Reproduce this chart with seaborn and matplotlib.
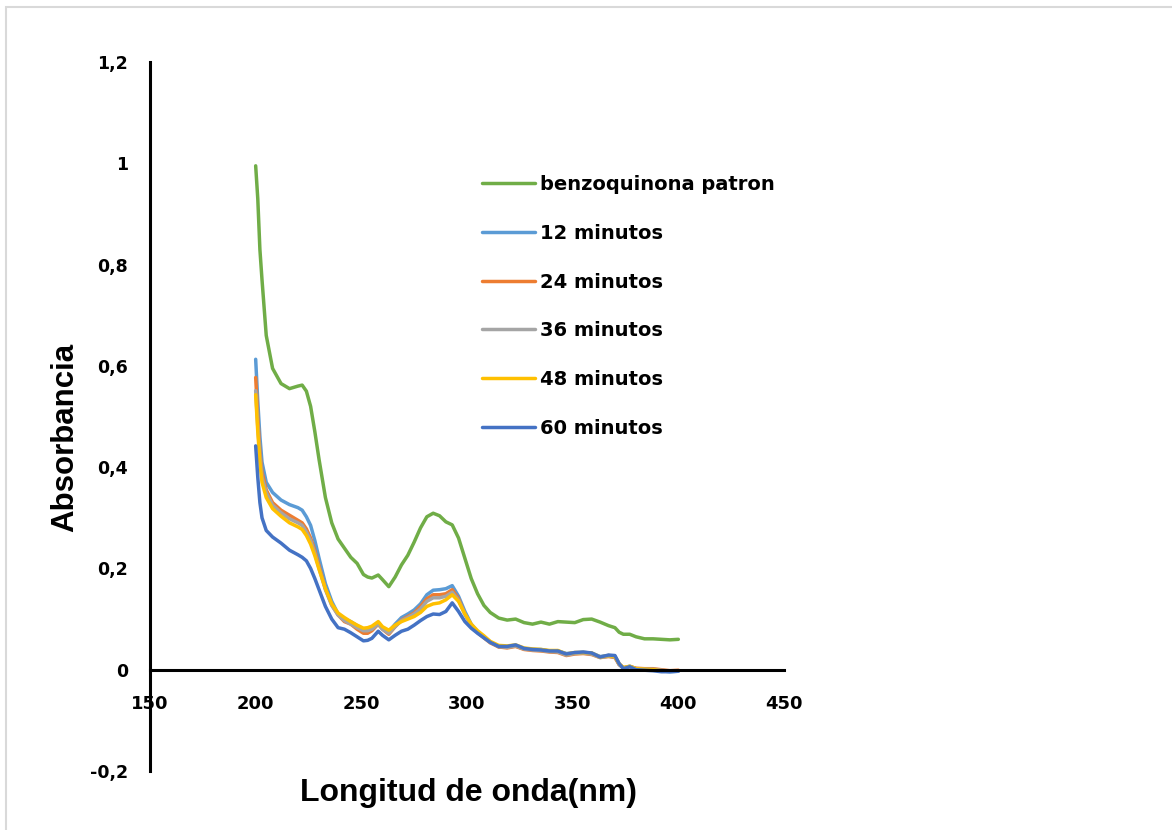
import matplotlib
matplotlib.use("Agg")
import matplotlib.pyplot as plt
import matplotlib.patches as mpatches
from matplotlib.ticker import FuncFormatter
import seaborn as sns
import pandas as pd

# ---------------- data ----------------
wavelength = [200, 201, 202, 203, 205, 208, 212, 216, 220, 222,
              224, 226, 228, 230, 233, 236, 239, 242, 245, 248,
              251, 253, 255, 258, 260, 263, 266, 269, 272, 275,
              278, 281, 284, 287, 290, 293, 296, 299, 302, 305,
              308, 311, 315, 319, 323, 327, 331, 335, 339, 343,
              347, 351, 355, 359, 363, 367, 370, 372, 374, 377,
              380, 384, 388, 392, 396, 400]

benzoquinona = [0.995, 0.93, 0.83, 0.77, 0.66, 0.595, 0.565, 0.555, 0.56, 0.562,
                0.55, 0.52, 0.47, 0.415, 0.34, 0.29, 0.258, 0.24, 0.222, 0.21,
                0.188, 0.183, 0.181, 0.187, 0.178, 0.164, 0.183, 0.207, 0.226, 0.252,
                0.28, 0.302, 0.309, 0.304, 0.292, 0.286, 0.26, 0.22, 0.18, 0.15,
                0.127, 0.113, 0.102, 0.098, 0.1, 0.093, 0.09, 0.094, 0.09, 0.095,
                0.094, 0.093, 0.099, 0.1, 0.094, 0.087, 0.083, 0.074, 0.07, 0.07,
                0.065, 0.061, 0.061, 0.06, 0.059, 0.06]

min12 = [0.613, 0.53, 0.46, 0.41, 0.37, 0.35, 0.335, 0.326, 0.32, 0.315,
         0.302, 0.285, 0.255, 0.22, 0.17, 0.135, 0.11, 0.1, 0.095, 0.087,
         0.08, 0.08, 0.084, 0.092, 0.083, 0.075, 0.09, 0.103, 0.11, 0.118,
         0.13, 0.148, 0.157, 0.158, 0.16, 0.166, 0.145, 0.115, 0.09, 0.075,
         0.065, 0.055, 0.045, 0.045, 0.047, 0.041, 0.04, 0.04, 0.037, 0.037,
         0.032, 0.033, 0.034, 0.033, 0.026, 0.028, 0.026, 0.01, 0.003, 0.007,
         0.002, 0.0, 0.0, -0.002, -0.004, -0.003]

min24 = [0.577, 0.50, 0.43, 0.39, 0.355, 0.33, 0.315, 0.305, 0.295, 0.29,
         0.278, 0.26, 0.235, 0.205, 0.16, 0.128, 0.108, 0.095, 0.09, 0.08,
         0.072, 0.072, 0.077, 0.09, 0.08, 0.07, 0.085, 0.098, 0.105, 0.112,
         0.125, 0.14, 0.148, 0.148, 0.15, 0.158, 0.14, 0.11, 0.088, 0.073,
         0.063, 0.053, 0.045, 0.043, 0.046, 0.04, 0.038, 0.037, 0.035, 0.034,
         0.028, 0.031, 0.032, 0.03, 0.024, 0.026, 0.024, 0.01, 0.004, 0.006,
         0.003, 0.002, 0.002, 0.0, -0.002, -0.001]

min36 = [0.551, 0.48, 0.42, 0.38, 0.35, 0.325, 0.31, 0.298, 0.29, 0.285,
         0.272, 0.255, 0.23, 0.2, 0.158, 0.127, 0.108, 0.097, 0.09, 0.083,
         0.077, 0.077, 0.08, 0.09, 0.08, 0.072, 0.085, 0.097, 0.103, 0.11,
         0.12, 0.135, 0.142, 0.142, 0.145, 0.153, 0.137, 0.11, 0.088, 0.074,
         0.064, 0.054, 0.046, 0.044, 0.047, 0.041, 0.039, 0.038, 0.036, 0.035,
         0.029, 0.032, 0.033, 0.031, 0.024, 0.027, 0.025, 0.011, 0.004, 0.006,
         0.002, 0.001, 0.001, -0.001, -0.003, -0.002]

min48 = [0.543, 0.47, 0.41, 0.37, 0.34, 0.318, 0.303, 0.29, 0.282, 0.277,
         0.265, 0.248, 0.225, 0.198, 0.16, 0.13, 0.112, 0.103, 0.095, 0.088,
         0.082, 0.083, 0.086, 0.095, 0.085, 0.078, 0.088, 0.095, 0.1, 0.105,
         0.113, 0.125, 0.13, 0.132, 0.138, 0.148, 0.135, 0.11, 0.09, 0.077,
         0.067, 0.056, 0.048, 0.047, 0.049, 0.043, 0.041, 0.04, 0.038, 0.038,
         0.031, 0.034, 0.034, 0.033, 0.025, 0.028, 0.026, 0.012, 0.004, 0.007,
         0.002, 0.001, 0.0, -0.002, -0.003, -0.002]

min60 = [0.442, 0.38, 0.33, 0.30, 0.275, 0.262, 0.25, 0.236, 0.227, 0.222,
         0.215, 0.2, 0.18, 0.158, 0.125, 0.1, 0.083, 0.08, 0.073, 0.065,
         0.057, 0.058, 0.062, 0.076, 0.068, 0.059, 0.068, 0.076, 0.08, 0.088,
         0.097, 0.105, 0.11, 0.109, 0.115, 0.132, 0.115, 0.095, 0.082, 0.072,
         0.063, 0.054, 0.046, 0.046, 0.049, 0.042, 0.04, 0.039, 0.037, 0.037,
         0.031, 0.034, 0.035, 0.033, 0.025, 0.029, 0.028, 0.012, 0.002, 0.006,
         0.0, -0.001, -0.002, -0.004, -0.004, -0.003]

series_names = ["benzoquinona patron", "12 minutos", "24 minutos",
                "36 minutos", "48 minutos", "60 minutos"]
series_values = [benzoquinona, min12, min24, min36, min48, min60]
series_colors = ["#70AD47", "#5B9BD5", "#ED7D31", "#A5A5A5", "#FFC000", "#4472C4"]

x_ticks = [150, 200, 250, 300, 350, 400, 450]
y_ticks = [-0.2, 0, 0.2, 0.4, 0.6, 0.8, 1.0, 1.2]

# ---------------- frame ----------------
rows = []
for name, vals in zip(series_names, series_values):
    for w, v in zip(wavelength, vals):
        rows.append({"wl": w, "abs": v, "serie": name})
df = pd.DataFrame(rows)

sns.set_theme(style="white")
plt.rcParams["font.family"] = ["DejaVu Sans"]

W, H = 1172, 830
fig = plt.figure(figsize=(W / 100, H / 100), dpi=100)
fig.patch.set_facecolor("white")

# outer light frame (top and left visible)
fig.patches.append(mpatches.Rectangle((6 / W, -0.05), 1.2, 1 - 7 / H + 0.05,
                                      transform=fig.transFigure, fill=False,
                                      edgecolor="#D9D9D9", linewidth=1.5))

left, right, top, bottom = 150, 784, 62, 771
ax = fig.add_axes([left / W, 1 - bottom / H, (right - left) / W, (bottom - top) / H])
ax.set_facecolor("white")

sns.lineplot(data=df, x="wl", y="abs", hue="serie", hue_order=series_names,
             palette=series_colors, linewidth=2.5, sort=False, ax=ax,
             estimator=None)

ax.set_xlim(150, 450)
ax.set_ylim(-0.2, 1.2)
ax.set_xticks(x_ticks)
ax.set_yticks(y_ticks)


def fmt(v, pos=None):
    if abs(v) < 1e-9:
        return "0"
    return f"{v:g}".replace(".", ",")


ax.yaxis.set_major_formatter(FuncFormatter(fmt))
ax.xaxis.set_major_formatter(FuncFormatter(lambda v, p: f"{v:g}"))

for s in ["top", "right"]:
    ax.spines[s].set_visible(False)
ax.spines["left"].set_color("black")
ax.spines["left"].set_linewidth(2.2)
ax.spines["bottom"].set_position(("data", 0))
ax.spines["bottom"].set_color("black")
ax.spines["bottom"].set_linewidth(2.2)

ax.tick_params(axis="both", length=0)
ax.tick_params(axis="x", pad=18)
ax.tick_params(axis="y", pad=16)
for lab in ax.get_xticklabels():
    lab.set_fontweight("bold")
    lab.set_fontsize(13)
    lab.set_color("black")
for lab in ax.get_yticklabels():
    lab.set_fontweight("bold")
    lab.set_fontsize(12.5)
    lab.set_color("black")

ax.set_xlabel("Longitud de onda(nm)", fontsize=23, fontweight="bold",
              family=["Liberation Sans", "DejaVu Sans"], color="black")
ax.set_ylabel("Absorbancia", fontsize=22.5, fontweight="bold",
              family=["Liberation Sans", "DejaVu Sans"], color="black")
ax.xaxis.set_label_coords((468 - left) / (right - left), (bottom - 793) / (bottom - top))
ax.yaxis.set_label_coords((65 - left) / (right - left), (bottom - 437) / (bottom - top))
ax.xaxis.label.set_va("center")
ax.yaxis.label.set_va("center")

ax.grid(False)

leg = ax.legend(loc="upper left", bbox_to_anchor=(482 / W, 1 - 175 / H),
                bbox_transform=fig.transFigure, frameon=False,
                prop={"weight": "bold", "size": 14}, labelcolor="black",
                handlelength=2.7, handletextpad=0.3, labelspacing=1.53,
                borderpad=0, borderaxespad=0)
for line in leg.get_lines():
    line.set_linewidth(2.5)

fig.savefig("out.png", dpi=100, facecolor="white")
